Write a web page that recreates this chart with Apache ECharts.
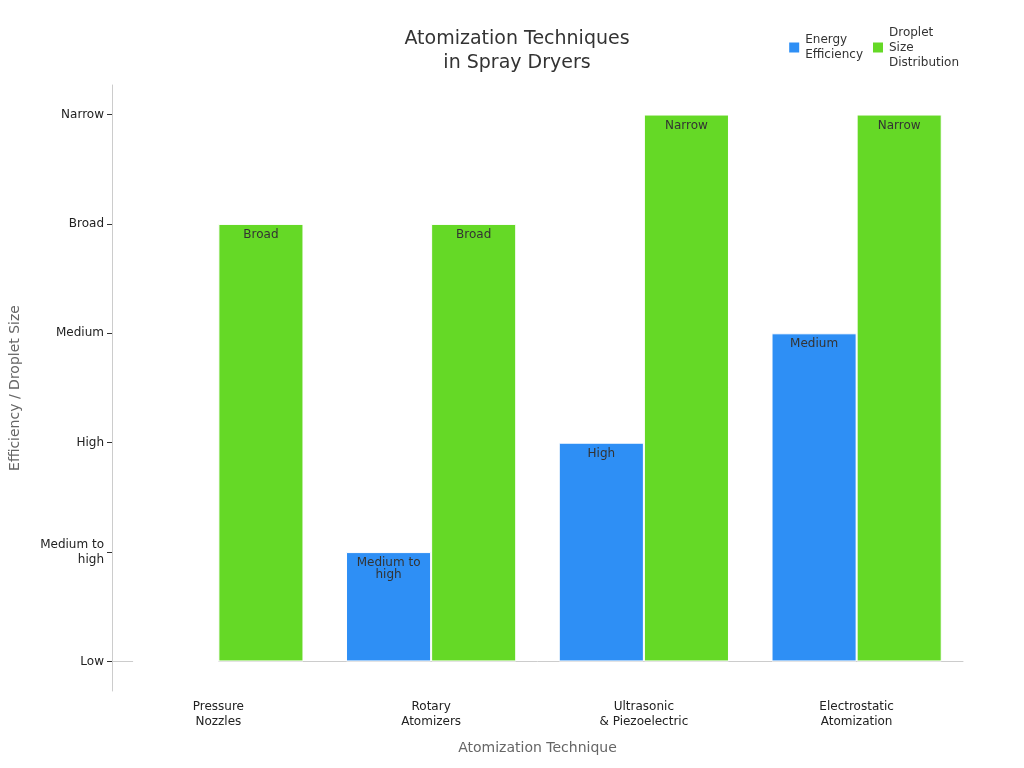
<!DOCTYPE html>
<html><head><meta charset="utf-8">
<script src="https://cdn.jsdelivr.net/npm/echarts@6/dist/echarts.min.js"></script>
<style>html,body{margin:0;padding:0}#c{width:1024px;height:768px}</style></head>
<body><div id="c"></div>
<script>
const categories = ["Pressure\nNozzles","Rotary\nAtomizers","Ultrasonic\n& Piezoelectric","Electrostatic\nAtomization"];
const levelLabels = ["Low","Medium to\nhigh","High","Medium","Broad","Narrow"];
const energyEfficiency = [0,1,2,3];
const dropletSize = [4,4,5,5];
const chart = echarts.init(document.getElementById('c'));
const lbl = {show:true,position:'insideTop',color:'#333',fontSize:12,fontFamily:'DejaVu Sans',
  formatter:p=>p.value>0?levelLabels[p.value]:''};
chart.setOption({
  textStyle:{fontFamily:'DejaVu Sans'},
  title:{text:'Atomization Techniques\nin Spray Dryers',left:512,top:22,textAlign:'center',
    textStyle:{fontSize:19,fontWeight:'normal',color:'#333',lineHeight:24,fontFamily:'DejaVu Sans'}},
  legend:{right:60,top:20,itemWidth:12,itemHeight:12,icon:'rect',textStyle:{fontSize:12,color:'#333',lineHeight:15},
    data:['Energy\nEfficiency','Droplet\nSize\nDistribution']},
  grid:{left:108,right:61,top:85,bottom:77},
  xAxis:{type:'category',data:categories,name:'Atomization Technique',nameLocation:'middle',nameGap:50,
    nameTextStyle:{fontSize:14,color:'#666'},
    axisLine:{lineStyle:{color:'#ccc'}},axisTick:{show:false},
    axisLabel:{color:'#222',fontSize:12,lineHeight:15}},
  yAxis:{type:'value',min:-0.27,max:5.27,name:'Efficiency / Droplet Size',nameLocation:'middle',nameGap:90,
    nameTextStyle:{fontSize:14,color:'#666'},splitLine:{show:false},
    axisLine:{show:true,lineStyle:{color:'#ccc'}},
    axisTick:{show:true,customValues:[0,1,2,3,4,5],lineStyle:{color:'#333'}},
    axisLabel:{customValues:[0,1,2,3,4,5],color:'#222',fontSize:12,lineHeight:15,formatter:v=>levelLabels[Math.round(v)]}},
  series:[
    {name:'Energy\nEfficiency',type:'bar',data:energyEfficiency,barGap:'0%',barCategoryGap:'20%',
      itemStyle:{color:'#2e8ff5',borderColor:'#fff',borderWidth:1},label:lbl},
    {name:'Droplet\nSize\nDistribution',type:'bar',data:dropletSize,
      itemStyle:{color:'#65d926',borderColor:'#fff',borderWidth:1},label:lbl}
  ]
});
</script></body></html>
